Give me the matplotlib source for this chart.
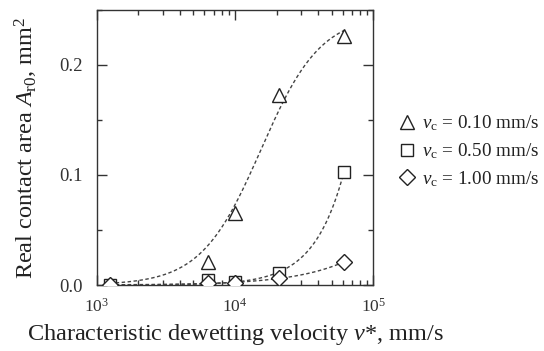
import numpy as np
import matplotlib
matplotlib.use("Agg")
import matplotlib.pyplot as plt
from matplotlib.ticker import LogLocator, MultipleLocator, FixedLocator

plt.rcParams['font.family'] = ['Liberation Serif', 'DejaVu Serif']
plt.rcParams['mathtext.fontset'] = 'custom'
plt.rcParams['mathtext.rm'] = 'Liberation Serif'
plt.rcParams['mathtext.it'] = 'Liberation Serif:italic'

# Data
v_star = [1.24e3, 6.4e3, 1.0e4, 2.07e4, 6.15e4]
area_010 = [0.0, 0.021, 0.065, 0.173, 0.226]
area_050 = [0.0, 0.005, 0.003, 0.011, 0.103]
area_100 = [0.0, 0.002, 0.002, 0.006, 0.021]
labels = [r'$v_{\rm c}$ = 0.10 mm/s', r'$v_{\rm c}$ = 0.50 mm/s', r'$v_{\rm c}$ = 1.00 mm/s']
markers = ['^', 's', 'D']
# allowed range of the Hill exponent used for each dashed fit
fit_n_range = [(1.5, 2.0), (1.0, 4.0), (1.0, 4.0)]


def hill_fit(x, y, nrange):
    x = np.asarray(x); y = np.asarray(y)
    best = None
    for n in np.linspace(nrange[0], nrange[1], 61):
        for lx0 in np.linspace(3, 6, 241):
            f = x**n / (10**(lx0 * n) + x**n)
            A = np.dot(f, y) / np.dot(f, f)
            err = np.sum((A * f - y) ** 2)
            if best is None or err < best[0]:
                best = (err, A, n, lx0)
    _, A, n, lx0 = best
    return lambda xx: A * xx**n / (10**(lx0 * n) + xx**n)


fig = plt.figure(figsize=(5.44, 3.51), dpi=100)
ax = fig.add_axes([0.178, 0.188, 0.508, 0.784])

xs = np.logspace(np.log10(v_star[0]), np.log10(v_star[-1]), 300)
handles = []
for ys, m, lab, nr in zip([area_010, area_050, area_100], markers, labels, fit_n_range):
    f = hill_fit(v_star, ys, nr)
    ax.plot(xs, f(xs), color='#444444', lw=1.0, dashes=(2.5, 1.8), zorder=2)
    ms = 10 if m == '^' else 8
    h, = ax.plot(v_star, ys, linestyle='none', marker=m, ms=ms, mfc='white',
                 mec='#222222', mew=1.0, zorder=3, label=lab)
    handles.append(h)

ax.set_xscale('log')
ax.set_xlim(1e3, 1e5)
ax.set_ylim(0, 0.25)
ax.yaxis.set_major_locator(FixedLocator([0.0, 0.1, 0.2]))
ax.yaxis.set_minor_locator(MultipleLocator(0.05))
ax.set_yticklabels(['0.0', '0.1', '0.2'])
ax.xaxis.set_major_locator(LogLocator(base=10))
ax.xaxis.set_minor_locator(LogLocator(base=10, subs=np.arange(2, 10)))
ax.tick_params(which='both', direction='in', top=True, right=True, colors='#333333')
ax.tick_params(which='major', length=7, width=1, labelsize=13.5, labelcolor='#333333')
ax.tick_params(which='minor', length=3.5, width=1)
ax.tick_params(axis='y', which='major', pad=10)
ax.tick_params(axis='x', which='major', pad=9, labelsize=12.5)
for s in ax.spines.values():
    s.set_color('#333333')
    s.set_linewidth(1.0)

ax.set_xlabel(r'Characteristic dewetting velocity $v$*, mm/s', fontsize=17.5, color='#222222', labelpad=5)
ax.set_ylabel(r'Real contact area $A_{\rm r0}$, mm$^2$', fontsize=17.5, color='#222222', labelpad=14)

fig.legend(handles=handles, loc='upper left', bbox_to_anchor=(0.716, 0.698),
           frameon=False, fontsize=13.8, handletextpad=0.3, labelspacing=0.42,
           handlelength=1.0, borderaxespad=0, labelcolor='#222222')

fig.savefig('out.png', dpi=100)
